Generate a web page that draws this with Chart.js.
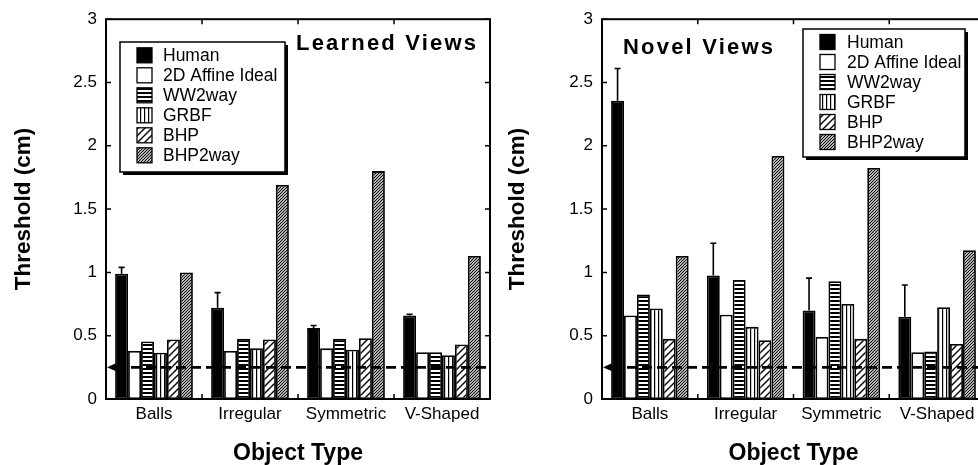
<!DOCTYPE html>
<html>
<head>
<meta charset="utf-8">
<script src="https://cdn.jsdelivr.net/npm/chart.js@4.4.0/dist/chart.umd.min.js"></script>
<style>
html, body { margin: 0; padding: 0; background: #fff; overflow: hidden; width: 978px; height: 465px; }
#izq { position: absolute; left: 0; top: 0; }
#der { position: absolute; left: 490px; top: 0; }
</style>
</head>
<body>
<canvas id="izq" width="492" height="465"></canvas>
<canvas id="der" width="500" height="465"></canvas>
<script>
const categorias = ['Balls', 'Irregular', 'Symmetric', 'V-Shaped'];
const series = ['Human', '2D Affine Ideal', 'WW2way', 'GRBF', 'BHP', 'BHP2way'];
const yTicks = [0, 0.5, 1, 1.5, 2, 2.5, 3];
const umbral = 0.25;

// Learned Views
const aprHuman = [0.99, 0.72, 0.56, 0.66];
const aprHumanErr = [1.04, 0.84, 0.58, 0.67];
const aprAffine = [0.38, 0.38, 0.40, 0.37];
const aprWW = [0.455, 0.475, 0.475, 0.37];
const aprGRBF = [0.365, 0.40, 0.39, 0.345];
const aprBHP = [0.47, 0.47, 0.48, 0.43];
const aprBHP2 = [1.0, 1.69, 1.80, 1.13];

// Novel Views
const novHuman = [2.355, 0.975, 0.70, 0.65];
const novHumanErr = [2.61, 1.23, 0.955, 0.90];
const novAffine = [0.66, 0.665, 0.49, 0.37];
const novWW = [0.825, 0.94, 0.93, 0.375];
const novGRBF = [0.715, 0.57, 0.75, 0.725];
const novBHP = [0.475, 0.465, 0.475, 0.435];
const novBHP2 = [1.13, 1.92, 1.825, 1.175];

const familia = '"Liberation Sans", Arial, Helvetica, sans-serif';

// Tramas de las barras
function rayas(ctx, tipo) {
    const s = { h: 4, v: 4, d: 7, dd: 3 }[tipo];
    const c = document.createElement('canvas');
    c.width = s; c.height = s;
    const g = c.getContext('2d');
    g.fillStyle = '#fff';
    g.fillRect(0, 0, s, s);
    g.fillStyle = '#000';
    g.strokeStyle = '#000';
    if (tipo === 'h') {
        g.fillRect(0, 0, s, 2);
    } else if (tipo === 'v') {
        g.fillRect(0, 0, 1.2, s);
    } else {
        g.lineWidth = tipo === 'd' ? 1.4 : 1.15;
        g.beginPath();
        g.moveTo(0, s); g.lineTo(s, 0);
        g.moveTo(-1, 1); g.lineTo(1, -1);
        g.moveTo(s - 1, s + 1); g.lineTo(s + 1, s - 1);
        g.stroke();
    }
    return ctx.createPattern(c, 'repeat');
}

function conjuntos(ctx, valores) {
    const fondos = ['#000', '#fff', rayas(ctx, 'h'), rayas(ctx, 'v'), rayas(ctx, 'd'), rayas(ctx, 'dd')];
    return series.map((nombre, i) => ({
        label: nombre,
        data: valores[i],
        backgroundColor: fondos[i],
        borderColor: '#000',
        borderWidth: 1.8,
        borderSkipped: false,
        categoryPercentage: 0.81,
        barPercentage: 1
    }));
}

// Línea punteada, barras de error, marco, leyenda y título
function extras(titulo, posTitulo, caja, errores) {
    return {
        id: 'extras',
        afterDatasetsDraw(chart) {
            const { ctx, chartArea: a, scales: { x, y } } = chart;
            ctx.save();
            ctx.strokeStyle = '#000';
            ctx.fillStyle = '#000';

            const yu = y.getPixelForValue(umbral);
            ctx.lineWidth = 2.8;
            ctx.setLineDash([10, 5]);
            ctx.beginPath();
            ctx.moveTo(a.left + 10, yu);
            ctx.lineTo(a.right, yu);
            ctx.stroke();
            ctx.setLineDash([]);
            ctx.beginPath();
            ctx.moveTo(a.left + 1, yu);
            ctx.lineTo(a.left + 10, yu - 4);
            ctx.lineTo(a.left + 10, yu + 4);
            ctx.closePath();
            ctx.fill();

            ctx.lineWidth = 1.6;
            chart.getDatasetMeta(0).data.forEach((barra, i) => {
                const ye = y.getPixelForValue(errores[i]);
                ctx.beginPath();
                ctx.moveTo(barra.x, barra.y);
                ctx.lineTo(barra.x, ye);
                ctx.moveTo(barra.x - 3, ye);
                ctx.lineTo(barra.x + 3, ye);
                ctx.stroke();
            });

            ctx.lineWidth = 2;
            ctx.strokeRect(a.left, a.top, a.right - a.left, a.bottom - a.top);
            ctx.lineWidth = 1.5;
            ctx.beginPath();
            yTicks.forEach(v => {
                const py = y.getPixelForValue(v);
                ctx.moveTo(a.left, py); ctx.lineTo(a.left + 5, py);
                ctx.moveTo(a.right, py); ctx.lineTo(a.right - 5, py);
            });
            for (let i = 0; i < categorias.length - 1; i++) {
                const px = (x.getPixelForTick(i) + x.getPixelForTick(i + 1)) / 2;
                ctx.moveTo(px, a.top); ctx.lineTo(px, a.top + 5);
                ctx.moveTo(px, a.bottom); ctx.lineTo(px, a.bottom - 5);
            }
            ctx.stroke();

            ctx.fillStyle = '#000';
            ctx.fillRect(caja.x0 + 3, caja.y0 + 3, caja.w, caja.h);
            ctx.fillStyle = '#fff';
            ctx.fillRect(caja.x0, caja.y0, caja.w, caja.h);
            ctx.lineWidth = 1.5;
            ctx.strokeRect(caja.x0, caja.y0, caja.w, caja.h);
            ctx.font = '17.5px ' + familia;
            ctx.textBaseline = 'middle';
            ctx.textAlign = 'left';
            chart.data.datasets.forEach((ds, i) => {
                const cy = caja.fila0 + i * caja.paso;
                ctx.fillStyle = ds.backgroundColor;
                ctx.fillRect(caja.sx, cy - 7.5, 15, 15);
                ctx.lineWidth = 1.3;
                ctx.strokeRect(caja.sx, cy - 7.5, 15, 15);
                ctx.fillStyle = '#000';
                ctx.fillText(ds.label, caja.tx, cy + 1);
            });

            ctx.font = 'bold 22px ' + familia;
            ctx.letterSpacing = '2.2px';
            ctx.textBaseline = 'alphabetic';
            ctx.fillText(titulo, posTitulo.x, posTitulo.y);
            ctx.restore();
        }
    };
}

function crearGrafico(id, valores, errores, titulo, posTitulo, caja, anchoY, padDer, padTituloY) {
    const ctx = document.getElementById(id).getContext('2d');
    return new Chart(ctx, {
        type: 'bar',
        data: { labels: categorias, datasets: conjuntos(ctx, valores) },
        options: {
            responsive: false,
            animation: false,
            devicePixelRatio: 1,
            layout: { padding: { top: 18, right: padDer, left: 0, bottom: 0 } },
            plugins: { legend: { display: false }, tooltip: { enabled: false } },
            scales: {
                x: {
                    grid: { display: false, drawTicks: false },
                    border: { display: false },
                    ticks: { color: '#000', font: { family: familia, size: 17 }, padding: 5 },
                    title: {
                        display: true, text: 'Object Type', color: '#000',
                        font: { family: familia, size: 23, weight: 'bold', lineHeight: 1 },
                        padding: { top: 0, bottom: 0 }
                    },
                    afterFit: s => { s.height = 66; }
                },
                y: {
                    min: 0, max: 3,
                    afterBuildTicks: s => { s.ticks = yTicks.map(v => ({ value: v })); },
                    grid: { display: false, drawTicks: false },
                    border: { display: false },
                    ticks: { color: '#000', font: { family: familia, size: 17 }, padding: 9, callback: v => String(v) },
                    title: {
                        display: true, text: 'Threshold (cm)', color: '#000',
                        font: { family: familia, size: 22.5, weight: 'bold', lineHeight: 1 },
                        padding: { top: padTituloY, bottom: 0 }
                    },
                    afterFit: s => { s.width = anchoY; }
                }
            }
        },
        plugins: [extras(titulo, posTitulo, caja, errores)]
    });
}

crearGrafico('izq',
    [aprHuman, aprAffine, aprWW, aprGRBF, aprBHP, aprBHP2], aprHumanErr,
    'Learned Views', { x: 296, y: 50 },
    { x0: 120, y0: 42, w: 165, h: 130, sx: 137, tx: 163, fila0: 55.3, paso: 20 },
    106, 2, 13);

crearGrafico('der',
    [novHuman, novAffine, novWW, novGRBF, novBHP, novBHP2], novHumanErr,
    'Novel Views', { x: 133, y: 54 },
    { x0: 313, y0: 29, w: 162, h: 128, sx: 330, tx: 357, fila0: 42, paso: 20 },
    112, 5, 17);
</script>
</body>
</html>
